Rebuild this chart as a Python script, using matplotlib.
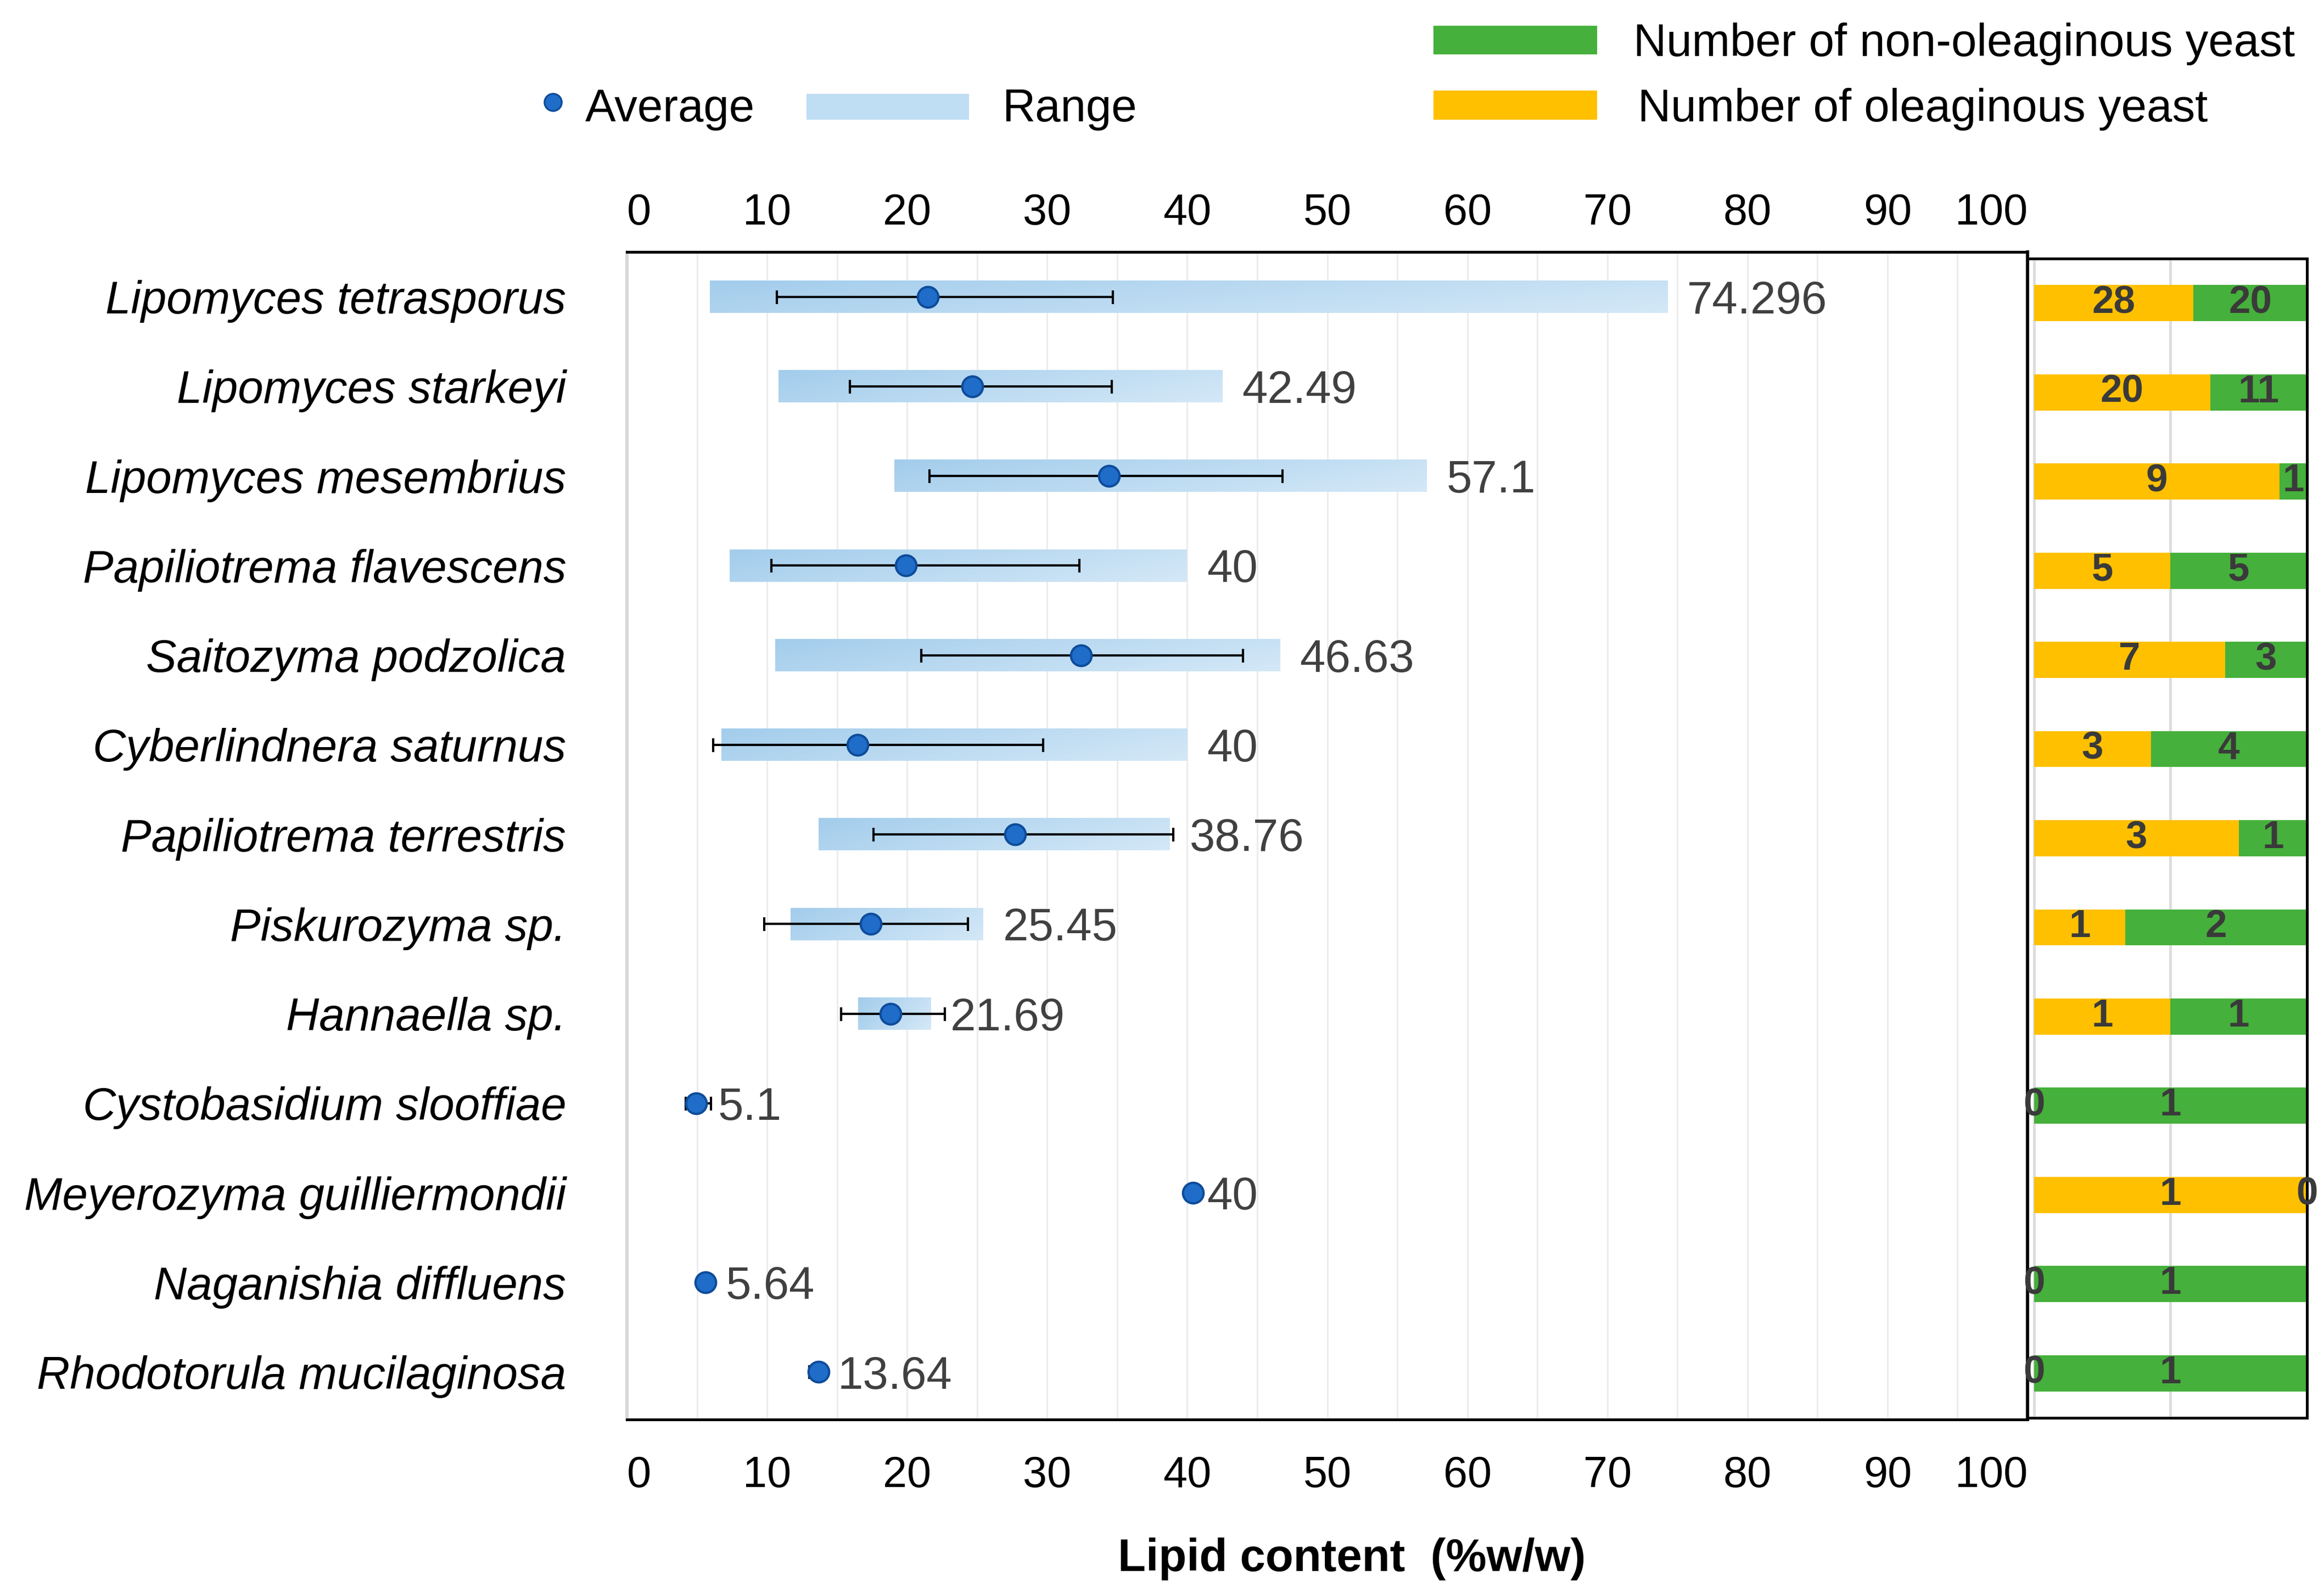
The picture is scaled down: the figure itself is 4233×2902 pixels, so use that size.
import numpy as np
import matplotlib
matplotlib.use('Agg')
import matplotlib.pyplot as plt
from matplotlib.patches import Rectangle
from matplotlib.lines import Line2D
from matplotlib.ticker import MultipleLocator
from matplotlib.colors import LinearSegmentedColormap

plt.rcParams['font.family'] = ['Liberation Sans', 'DejaVu Sans']

# data
species = ['Lipomyces tetrasporus', 'Lipomyces starkeyi', 'Lipomyces mesembrius',
           'Papiliotrema flavescens', 'Saitozyma podzolica', 'Cyberlindnera saturnus',
           'Papiliotrema terrestris', 'Piskurozyma sp.', 'Hannaella sp.',
           'Cystobasidium slooffiae', 'Meyerozyma guilliermondii',
           'Naganishia diffluens', 'Rhodotorula mucilaginosa']
range_min = [5.9, 10.8, 19.1, 7.35, 10.6, 6.75, 13.7, 11.7, 16.5, 5.1, 40, 5.64, 13.64]
range_max = [74.296, 42.49, 57.1, 40, 46.63, 40, 38.76, 25.45, 21.69, 5.1, 40, 5.64, 13.64]
average = [21.5, 24.65, 34.4, 19.9, 32.4, 16.45, 27.7, 17.4, 18.8, 4.95, 40.4, 5.6, 13.7]
err_low = [10.7, 15.9, 21.6, 10.3, 21.0, 6.15, 17.6, 9.8, 15.3, 4.2, 40.0, 5.6, 13.0]
err_high = [34.7, 34.6, 46.8, 32.3, 44.0, 29.7, 39.0, 24.35, 22.7, 6.0, 40.4, 5.6, 13.7]
n_oleaginous = [28, 20, 9, 5, 7, 3, 3, 1, 1, 0, 1, 0, 0]
n_non_oleaginous = [20, 11, 1, 5, 3, 4, 1, 2, 1, 1, 0, 1, 1]
x_ticks = list(range(0, 101, 10))

W, H = 4233, 2902
fig = plt.figure(figsize=(W / 300, H / 300), dpi=300)


def fx(px):
    return px / W


def fy(py):
    return 1 - py / H


y = np.arange(len(species))
avg = np.array(average)
bar_h = 0.36

# ---- main panel: range + average
ax = fig.add_axes([fx(1142), fy(2586), fx(3693 - 1142), (2586 - 459) / H])
blues = LinearSegmentedColormap.from_list('range', ['#a3cdec', '#d4e8f7'])
gx, gy = np.meshgrid(np.linspace(0, 1, 200), np.linspace(0, 1, 20))
grad = 0.75 * gx + 0.25 * gy
for yi, lo, hi in zip(y, range_min, range_max):
    if hi > lo:
        ax.imshow(grad, extent=[lo, hi, yi + bar_h / 2, yi - bar_h / 2], cmap=blues,
                  aspect='auto', origin='upper', zorder=2, vmin=0, vmax=1)
ax.errorbar(avg, y, xerr=[avg - np.array(err_low), np.array(err_high) - avg], fmt='none',
            ecolor='black', elinewidth=1.0, capsize=3, capthick=1.0, zorder=3)
ax.plot(avg, y, 'o', ls='none', ms=9, mfc='#1f6dc9', mec='#0e4c9a', mew=1.0, zorder=4)
for yi, v in zip(y, range_max):
    ax.text(v + 1.4, yi + 0.05, '{:g}'.format(v), ha='left', va='center', fontsize=20,
            color='#404040')

ax.set_xlim(0, 100)
ax.set_ylim(12.53, -0.5)
ax.set_xticks(x_ticks, labels=[str(t) for t in x_ticks])
ax.xaxis.set_minor_locator(MultipleLocator(5))
ax.grid(axis='x', which='both', color='#ececec', lw=0.7)
ax.set_axisbelow(True)
ax.tick_params(axis='x', which='both', length=0, pad=15.6, labelsize=19)
lbls = ax.get_xticklabels()
lbls[0].set_ha('left')
lbls[-1].set_ha('right')
ax.set_yticks(y, labels=species, fontstyle='italic', fontsize=20)
ax.tick_params(axis='y', length=0, pad=26.6)

top = ax.secondary_xaxis('top')
top.set_xticks(x_ticks, labels=[str(t) for t in x_ticks])
top.tick_params(length=0, pad=7.9, labelsize=19)
top.spines['top'].set_visible(False)
tl = top.get_xticklabels()
tl[0].set_ha('left')
tl[-1].set_ha('right')

for s in ['top', 'bottom']:
    ax.spines[s].set(color='black', lw=1.2)
ax.spines['left'].set(color='#d9d9d9', lw=1.5)
ax.spines['right'].set(color='black', lw=1.4)

# ---- right panel: share of oleaginous yeasts
ax2 = fig.add_axes([fx(3698), fy(2583), fx(4202 - 3698), (2583 - 471) / H])
ole = np.array(n_oleaginous)
non = np.array(n_non_oleaginous)
f_ole = ole / (ole + non)
f_non = non / (ole + non)
for v in [0, 0.5, 1.0]:
    ax2.axvline(v, color='#dddddd', lw=1.2, zorder=0)
ax2.barh(y, f_ole, height=0.405, color='#ffc000', zorder=2)
ax2.barh(y, f_non, left=f_ole, height=0.405, color='#45b03b', zorder=2)
for yi, a, b, fa, fb in zip(y, ole, non, f_ole, f_non):
    ax2.text(fa / 2, yi, str(a), ha='center', va='center', fontsize=17,
             fontweight='bold', color='#3a3a3a', zorder=5)
    ax2.text(fa + fb / 2, yi, str(b), ha='center', va='center', fontsize=17,
             fontweight='bold', color='#3a3a3a', zorder=5)
ax2.set_xlim(-0.014, 1.0)
ax2.set_ylim(12.5, -0.5)
ax2.set_xticks([])
ax2.set_yticks([])
ax2.spines['left'].set_visible(False)
for s in ['top', 'bottom', 'right']:
    ax2.spines[s].set(color='black', lw=1.2)

# ---- legends
fig.add_artist(Line2D([fx(1007)], [fy(186)], marker='o', ms=7.5, mfc='#1f6dc9', mec='#0e4c9a',
                      mew=0.8, transform=fig.transFigure))
fig.text(fx(1066), fy(199), 'Average', fontsize=20, va='center')
fig.add_artist(Rectangle((fx(1471), fy(216)), fx(1763 - 1471), (216 - 173) / H,
                         transform=fig.transFigure, color='#c0def3'))
fig.text(fx(1825), fy(199), 'Range', fontsize=20, va='center')
fig.add_artist(Rectangle((fx(2613), fy(97)), fx(2907 - 2613), (97 - 49) / H,
                         transform=fig.transFigure, color='#45b03b'))
fig.text(fx(2975), fy(80), 'Number of non-oleaginous yeast', fontsize=20, va='center')
fig.add_artist(Rectangle((fx(2613), fy(216)), fx(2907 - 2613), (216 - 167) / H,
                         transform=fig.transFigure, color='#ffc000'))
fig.text(fx(2983), fy(199), 'Number of oleaginous yeast', fontsize=20, va='center')

fig.text(fx(2462), fy(2840), 'Lipid content  (%w/w)', ha='center', va='center',
         fontsize=20, fontweight='bold')

fig.savefig('out.png', dpi=300)
